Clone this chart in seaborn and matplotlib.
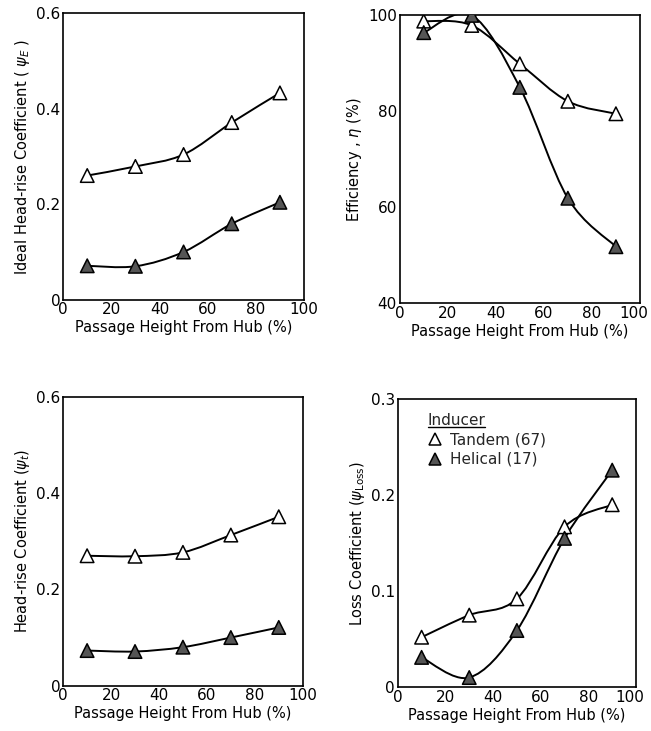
import numpy as np
import pandas as pd
import matplotlib
matplotlib.use("Agg")
import matplotlib.pyplot as plt
import matplotlib.transforms as mtransforms
import seaborn as sns
from matplotlib.path import Path
from matplotlib.patches import PathPatch
from matplotlib.lines import Line2D

# ---------------- data ----------------
height = [10, 30, 50, 70, 90]
psiE_tandem = [0.260, 0.279, 0.304, 0.371, 0.433]
psiE_helical = [0.071, 0.070, 0.100, 0.159, 0.204]
eff_tandem = [98.8, 97.9, 89.9, 82.1, 79.5]
eff_helical = [96.4, 100.0, 85.0, 61.9, 51.8]
psit_tandem = [0.270, 0.269, 0.277, 0.313, 0.351]
psit_helical = [0.073, 0.071, 0.080, 0.100, 0.121]
loss_tandem = [0.052, 0.075, 0.092, 0.167, 0.190]
loss_helical = [0.031, 0.010, 0.059, 0.155, 0.226]

series_names = ["Tandem (67)", "Helical (17)"]
xlabel = "Passage Height From Hub (%)"
xticks = [0, 20, 40, 60, 80, 100]

sns.set_theme(style="white")
plt.rcParams['font.family'] = ['DejaVu Sans']
plt.rcParams['mathtext.fontset'] = 'dejavusans'

fig = plt.figure(figsize=(6.51, 7.31), dpi=100)

positions = [
    [0.097, 0.590, 0.370, 0.392],
    [0.614, 0.585, 0.369, 0.394],
    [0.097, 0.062, 0.368, 0.395],
    [0.611, 0.060, 0.366, 0.394],
]

panels = [
    dict(t=psiE_tandem, h=psiE_helical, ylim=(0, 0.6), yticks=[0, 0.2, 0.4, 0.6],
         ytl=["0", "0.2", "0.4", "0.6"],
         ylabel=r"Ideal Head-rise Coefficient ( $\psi_E$ )"),
    dict(t=eff_tandem, h=eff_helical, ylim=(40, 100), yticks=[40, 60, 80, 100],
         ytl=["40", "60", "80", "100"],
         ylabel=r"Efficiency , $\eta$ (%)"),
    dict(t=psit_tandem, h=psit_helical, ylim=(0, 0.6), yticks=[0, 0.2, 0.4, 0.6],
         ytl=["0", "0.2", "0.4", "0.6"],
         ylabel=r"Head-rise Coefficient ($\psi_t$)"),
    dict(t=loss_tandem, h=loss_helical, ylim=(0, 0.3), yticks=[0, 0.1, 0.2, 0.3],
         ytl=["0", "0.1", "0.2", "0.3"],
         ylabel=r"Loss Coefficient ($\psi_{\rm Loss}$)"),
]


def smooth_path(x, y):
    pts = np.column_stack([x, y]).astype(float)
    n = len(pts)
    verts = [pts[0]]
    codes = [Path.MOVETO]
    for i in range(n - 1):
        p0 = pts[i - 1] if i > 0 else pts[i]
        p1 = pts[i]
        p2 = pts[i + 1]
        p3 = pts[i + 2] if i + 2 < n else pts[i + 1]
        c1 = p1 + (p2 - p0) / 6.0
        c2 = p2 - (p3 - p1) / 6.0
        verts += [c1, c2, p2]
        codes += [Path.CURVE4] * 3
    return Path(verts, codes)


axes = []
for pos, p in zip(positions, panels):
    ax = fig.add_axes(pos)
    axes.append(ax)
    df = pd.DataFrame({
        "x": height * 2,
        "y": list(p["t"]) + list(p["h"]),
        "Inducer": [series_names[0]] * len(height) + [series_names[1]] * len(height),
    })
    for vals in (p["t"], p["h"]):
        ax.add_patch(PathPatch(smooth_path(height, vals), facecolor="none",
                               edgecolor="black", lw=1.4, zorder=2))
    sns.scatterplot(data=df, x="x", y="y", hue="Inducer", style="Inducer",
                    markers={series_names[0]: "^", series_names[1]: "^"},
                    palette={series_names[0]: "white", series_names[1]: "#555555"},
                    edgecolor="black", linewidth=1.1, s=95, legend=False,
                    ax=ax, zorder=3)
    ax.set_xlim(0, 100)
    ax.set_ylim(*p["ylim"])
    ax.set_xticks(xticks)
    ax.set_xticklabels([str(v) for v in xticks])
    ax.set_yticks(p["yticks"])
    ax.set_yticklabels(p["ytl"])
    ax.tick_params(axis="both", direction="in", length=11, width=1.2,
                   labelsize=11, pad=2, colors="black")
    ax.tick_params(axis="y", length=15)
    for t in (ax.xaxis.get_major_ticks()[0], ax.xaxis.get_major_ticks()[-1],
              ax.yaxis.get_major_ticks()[0], ax.yaxis.get_major_ticks()[-1]):
        t.tick1line.set_visible(False)
        t.tick2line.set_visible(False)
    for s in ax.spines.values():
        s.set_visible(True)
        s.set_color("black")
        s.set_linewidth(1.2)
    ax.set_xlabel(xlabel, fontsize=10.5, labelpad=2, color="black")
    ax.set_ylabel(p["ylabel"], fontsize=10.5, labelpad=3, color="black")
    ax.set_facecolor("white")

# keep the right-most tick label of the right-hand panels inside the figure
for ax in (axes[1], axes[3]):
    lab = ax.get_xticklabels()[-1]
    lab.set_transform(lab.get_transform() +
                      mtransforms.ScaledTranslation(-6 / 100, 0, fig.dpi_scale_trans))

# legend on loss panel
ax4 = axes[3]
handles = [
    Line2D([], [], marker="^", linestyle="none", markerfacecolor="white",
           markeredgecolor="black", markersize=8, markeredgewidth=1.1),
    Line2D([], [], marker="^", linestyle="none", markerfacecolor="#555555",
           markeredgecolor="black", markersize=8, markeredgewidth=1.1),
]
leg = ax4.legend(handles, series_names, title="Inducer", loc="upper left",
                 bbox_to_anchor=(0.08, 0.99), frameon=False, fontsize=11,
                 title_fontsize=11, alignment="left", handletextpad=0.5,
                 handlelength=1.0, labelspacing=0.3, borderaxespad=0.3)

fig.canvas.draw()
bb = leg.get_title().get_window_extent()
inv = fig.transFigure.inverted()
(x0, y0) = inv.transform((bb.x0, bb.y0))
(x1, _) = inv.transform((bb.x1, bb.y0))
fig.add_artist(Line2D([x0, x1], [y0 + 0.001, y0 + 0.001], color="black", lw=1.0,
                      transform=fig.transFigure))

fig.savefig("out.png", dpi=100, facecolor="white")
